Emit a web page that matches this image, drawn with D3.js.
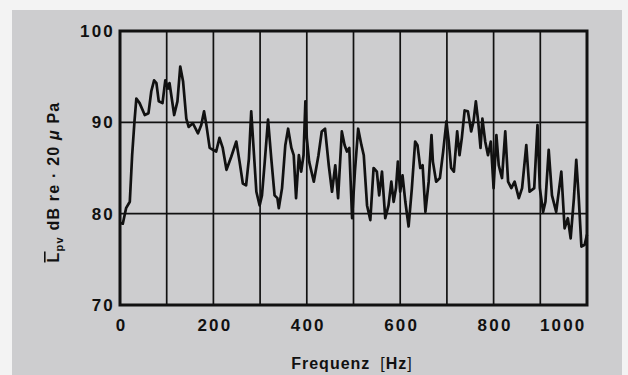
<!DOCTYPE html>
<html>
<head>
<meta charset="utf-8">
<script src="https://cdn.jsdelivr.net/npm/d3@7"></script>
<style>
  html, body { margin: 0; padding: 0; background: #f3f3f3; }
  svg { display: block; }
  text { font-family: "Liberation Sans", Arial, sans-serif; font-weight: bold; fill: #111; }
</style>
</head>
<body>
<div id="chart"></div>
<script>
// frequency in Hz
const freqHz = [
  0, 6, 13, 21, 26, 31, 35, 42, 53, 61,
  67, 73, 78, 83, 91, 97, 103, 106, 116, 123,
  129, 135, 142, 147, 156, 167, 174, 180, 185, 192,
  199, 206, 213, 220, 228, 238, 249, 256, 263, 270,
  276, 281, 287, 292, 299, 304, 310, 317, 324, 331,
  337, 340, 347, 354, 360, 367, 372, 377, 383, 388,
  393, 397, 400, 405, 415, 425, 432, 439, 447, 454,
  461, 467, 475, 481, 486, 491, 497, 503, 510, 517,
  522, 529, 536, 543, 550, 555, 561, 568, 575, 581,
  586, 591, 595, 600, 605, 611, 618, 625, 632, 637,
  643, 648, 654, 661, 667, 670, 677, 685, 692, 699,
  704, 709, 715, 722, 727, 732, 738, 745, 752, 757,
  762, 767, 772, 776, 782, 788, 794, 800, 806, 811,
  818, 825, 831, 838, 845, 854, 861, 870, 877, 887,
  894, 899, 906, 911, 918, 925, 934, 945, 952, 959,
  965, 972, 977, 982, 988, 995, 1000
];

// level in dB re 20 uPa
const levelDb = [
  79.0, 78.9, 80.6, 81.3, 86.4, 90.1, 92.6, 92.1, 90.8, 91.0,
  93.4, 94.6, 94.3, 92.3, 92.1, 94.6, 93.7, 94.3, 90.8, 92.3,
  96.1, 94.5, 90.4, 89.5, 89.9, 88.8, 89.7, 91.2, 89.7, 87.2,
  87.0, 86.8, 88.3, 87.2, 84.8, 86.2, 87.9, 85.7, 83.3, 83.1,
  86.0, 91.2, 86.4, 82.4, 80.9, 82.0, 85.7, 90.3, 86.0, 82.0,
  81.7, 80.6, 82.8, 87.5, 89.3, 87.2, 86.4, 81.7, 86.4, 84.6,
  86.4, 92.3, 88.3, 85.7, 83.5, 86.4, 89.0, 89.3, 85.3, 82.4,
  85.3, 81.7, 89.0, 87.5, 86.8, 87.2, 79.5, 84.6, 89.3, 87.5,
  86.4, 80.9, 79.3, 85.0, 84.6, 82.0, 84.6, 79.5, 80.9, 83.5,
  81.3, 82.8, 85.7, 82.4, 84.2, 81.3, 78.6, 82.8, 87.9, 87.5,
  85.0, 85.3, 80.2, 83.5, 88.6, 85.7, 83.5, 83.9, 86.8, 90.1,
  87.9, 85.0, 84.6, 89.0, 86.4, 88.3, 91.3, 91.2, 89.0, 90.1,
  92.3, 90.1, 87.2, 90.4, 87.9, 86.4, 87.9, 82.8, 88.6, 85.3,
  83.9, 89.0, 83.5, 82.8, 83.5, 81.7, 82.8, 87.5, 82.4, 82.8,
  89.7, 82.8, 80.2, 81.3, 87.0, 82.0, 80.2, 84.6, 78.4, 79.5,
  77.3, 81.7, 85.9, 82.0, 76.4, 76.6, 77.7
];

const xTicks = [0, 200, 400, 600, 800, 1000];
const xGrid = [100, 200, 300, 400, 500, 600, 700, 800, 900];
const yTicks = [70, 80, 90, 100];
const yGrid = [80, 90];

const width = 628, height = 375;
const plot = {left: 120, right: 587, top: 31, bottom: 305};

const svg = d3.select('#chart').append('svg')
    .attr('width', width)
    .attr('height', height);

// paper background
svg.append('rect')
    .attr('x', 12).attr('y', 10)
    .attr('width', 610).attr('height', height - 10)
    .attr('fill', '#cdcdcf');

const x = d3.scaleLinear().domain([0, 1000]).range([plot.left, plot.right]);
const y = d3.scaleLinear().domain([70, 100]).range([plot.bottom, plot.top]);

// grid
svg.append('g')
    .selectAll('line')
    .data(xGrid)
    .enter().append('line')
    .attr('x1', d => x(d)).attr('x2', d => x(d))
    .attr('y1', plot.top).attr('y2', plot.bottom)
    .attr('stroke', '#111').attr('stroke-width', 1.7);

svg.append('g')
    .selectAll('line')
    .data(yGrid)
    .enter().append('line')
    .attr('x1', plot.left).attr('x2', plot.right)
    .attr('y1', d => y(d)).attr('y2', d => y(d))
    .attr('stroke', '#111').attr('stroke-width', 1.7);

// trace
const points = freqHz.map((f, i) => [f, levelDb[i]]);
svg.append('path')
    .datum(points)
    .attr('fill', 'none')
    .attr('stroke', '#111')
    .attr('stroke-width', 2.7)
    .attr('stroke-linejoin', 'round')
    .attr('d', d3.line().x(d => x(d[0])).y(d => y(d[1])));

// frame
svg.append('rect')
    .attr('x', plot.left).attr('y', plot.top)
    .attr('width', plot.right - plot.left)
    .attr('height', plot.bottom - plot.top)
    .attr('fill', 'none')
    .attr('stroke', '#111')
    .attr('stroke-width', 3);

// axes (labels only, the frame carries the lines)
const xAxis = svg.append('g')
    .attr('transform', `translate(0,${plot.bottom})`)
    .call(d3.axisBottom(x).tickValues(xTicks).tickFormat(d3.format('d')).tickSize(0).tickPadding(14));
xAxis.select('.domain').remove();
xAxis.selectAll('text')
    .attr('font-size', 17)
    .attr('letter-spacing', 2.2)
    .attr('text-anchor', d => d === 1000 ? 'end' : 'middle')
    .attr('dx', d => d === 1000 ? -1 : 1);

const yAxis = svg.append('g')
    .attr('transform', `translate(${plot.left},0)`)
    .call(d3.axisLeft(y).tickValues(yTicks).tickFormat(d3.format('d')).tickSize(0).tickPadding(5));
yAxis.select('.domain').remove();
yAxis.selectAll('text')
    .attr('font-size', 17)
    .attr('letter-spacing', 2.2);

svg.selectAll('.tick text')
    .style('font-family', '"Liberation Sans", Arial, sans-serif')
    .style('font-weight', 'bold')
    .attr('fill', '#111');

// axis titles
const xTitle = svg.append('text')
    .attr('x', 352).attr('y', 369)
    .attr('text-anchor', 'middle')
    .attr('font-size', 16)
    .attr('letter-spacing', 1);
xTitle.append('tspan').text('Frequenz');
xTitle.append('tspan').attr('dx', 10).attr('font-weight', 'normal').text('[');
xTitle.append('tspan').text('Hz');
xTitle.append('tspan').attr('font-weight', 'normal').text(']');

const yTitle = svg.append('text')
    .attr('transform', 'translate(59,182) rotate(-90)')
    .attr('text-anchor', 'middle')
    .attr('font-size', 16)
    .attr('letter-spacing', 1.2);
yTitle.append('tspan').style('text-decoration', 'overline').text('L');
yTitle.append('tspan').attr('font-size', 11).attr('dy', 4).text('pv');
yTitle.append('tspan').attr('dy', -4).text(' dB re · 20 ');
yTitle.append('tspan').attr('font-style', 'italic').text('μ');
yTitle.append('tspan').text(' Pa');
</script>
</body>
</html>
